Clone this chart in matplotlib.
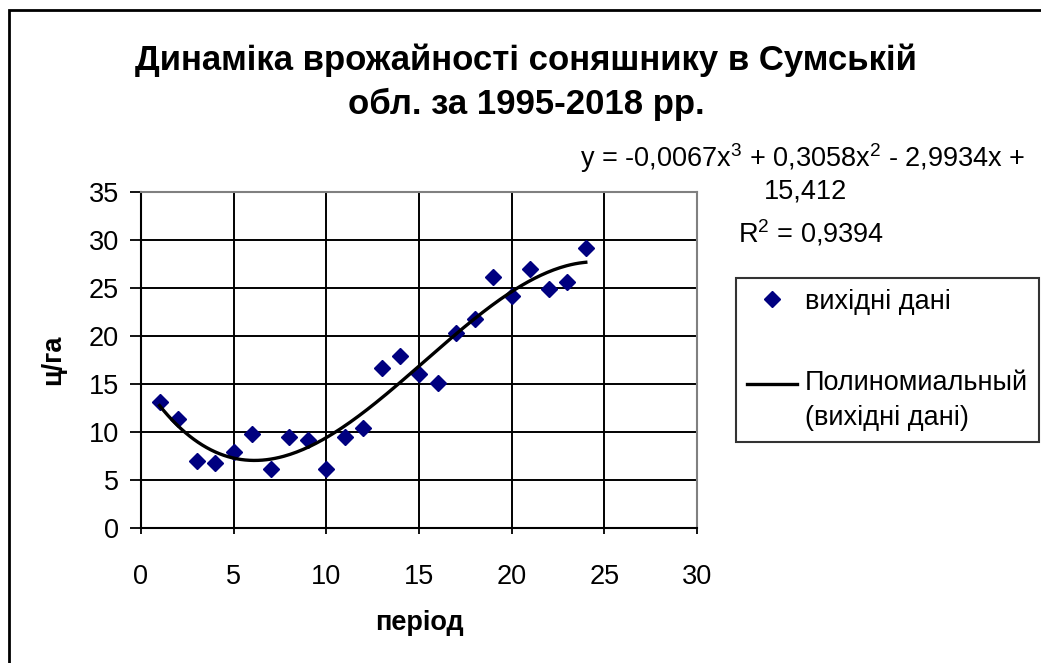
import numpy as np
import matplotlib
matplotlib.use('Agg')
import matplotlib.pyplot as plt
from matplotlib.patches import Rectangle
from matplotlib.lines import Line2D
from matplotlib.legend_handler import HandlerLine2D

plt.rcParams['font.family'] = ['Liberation Sans', 'DejaVu Sans']
plt.rcParams['mathtext.fontset'] = 'custom'
plt.rcParams['mathtext.rm'] = 'Liberation Sans'

# data
period = [1, 2, 3, 4, 5, 6, 7, 8, 9, 10, 11, 12,
          13, 14, 15, 16, 17, 18, 19, 20, 21, 22, 23, 24]
yield_cha = [13.15, 11.35, 7.0, 6.8, 7.9, 9.75, 6.1, 9.5, 9.15, 6.1, 9.5, 10.4,
             16.7, 17.9, 16.05, 15.1, 20.35, 21.75, 26.1, 24.2, 27.0, 24.9, 25.6, 29.2]
x_ticks = [0, 5, 10, 15, 20, 25, 30]
y_ticks = [0, 5, 10, 15, 20, 25, 30, 35]

FS = 19.5

# cubic trend line (like Excel polynomial trendline)
coef = np.polyfit(period, yield_cha, 3)
xs = np.linspace(period[0], period[-1], 200)
ys = np.polyval(coef, xs)


class TopLineHandler(HandlerLine2D):
    # put the legend line next to the first line of a two-line label
    def create_artists(self, legend, orig_handle, xdescent, ydescent,
                       width, height, fontsize, trans):
        arts = super().create_artists(legend, orig_handle, xdescent, ydescent,
                                      width, height, fontsize, trans)
        for a in arts:
            a.set_ydata(np.asarray(a.get_ydata()) + fontsize * 0.65)
        return arts


fig = plt.figure(figsize=(10.41, 6.63), dpi=100)
ax = fig.add_axes([141/1041, 1 - 528/663, (697-141)/1041, (528-192)/663])

ax.plot(period, yield_cha, 'D', color='#000080', markersize=8, linestyle='none')
ax.plot(xs, ys, color='black', linewidth=2.4)

ax.set_xlim(0, 30)
ax.set_ylim(0, 35)
ax.set_xticks(x_ticks)
ax.set_yticks(y_ticks)
ax.grid(True, color='black', linewidth=1.4)
ax.tick_params(labelsize=FS, width=1.3, direction='out')
ax.tick_params(axis='y', length=8, pad=8)
ax.tick_params(axis='x', length=4, pad=22)
for side in ['top', 'right']:
    ax.spines[side].set_color('#808080')
    ax.spines[side].set_linewidth(1.5)
for side in ['left', 'bottom']:
    ax.spines[side].set_linewidth(1.5)

ax.set_xlabel('період', fontsize=FS, fontweight='bold', labelpad=14)
ax.set_ylabel('ц/га', fontsize=FS, fontweight='bold', labelpad=16)

fig.text(526/1041, 1 - 60/663, 'Динаміка врожайності соняшнику в Сумській',
         fontsize=25, fontweight='bold', ha='center', va='center')
fig.text(526/1041, 1 - 104/663, 'обл. за 1995-2018 рр.',
         fontsize=25, fontweight='bold', ha='center', va='center')

fig.text(803/1041, 1 - 158/663, 'y = -0,0067x$^3$ + 0,3058x$^2$ - 2,9934x +',
         fontsize=FS, ha='center', va='center')
fig.text(805/1041, 1 - 191/663, '15,412', fontsize=FS, ha='center', va='center')
fig.text(811/1041, 1 - 233/663, 'R$^2$ = 0,9394', fontsize=FS, ha='center', va='center')

h_pts = Line2D([], [], marker='D', color='#000080', linestyle='none', markersize=8)
h_line = Line2D([], [], color='black', linewidth=2.4)
leg = fig.legend([h_pts, h_line], ['вихідні дані', 'Полиномиальный\n(вихідні дані)'],
                 loc='upper right', bbox_to_anchor=(1039/1041, 1 - 278/663),
                 fontsize=FS, frameon=True, fancybox=False, edgecolor='black',
                 handlelength=1.85, handletextpad=0.3, labelspacing=2.05,
                 borderpad=0.4, borderaxespad=0,
                 handler_map={h_line: TopLineHandler()})
leg.get_frame().set_linewidth(1.5)
for t in leg.get_texts():
    t.set_linespacing(1.45)

fig.patches.append(Rectangle((9/1041, -0.5), 2, 1.5 - 10/663,
                             transform=fig.transFigure, fill=False,
                             edgecolor='black', linewidth=2))

fig.savefig('out.png', dpi=100)
